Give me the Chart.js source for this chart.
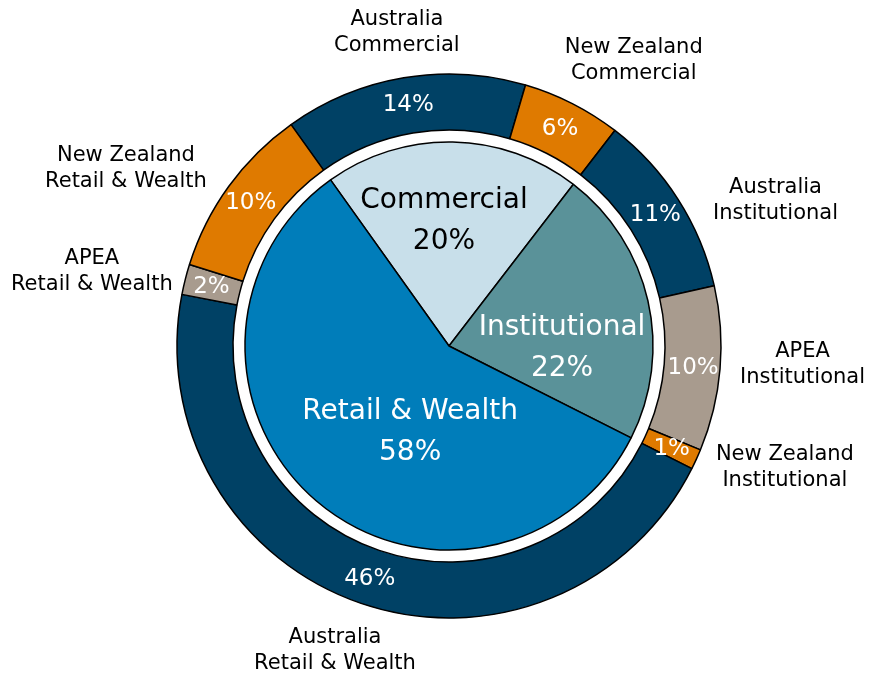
<!DOCTYPE html>
<html>
<head>
<meta charset="utf-8">
<title>Segment split</title>
<script src="https://cdn.jsdelivr.net/npm/chart.js@4.4.1/dist/chart.umd.min.js"></script>
<style>
    html, body { margin: 0; padding: 0; background: #ffffff; }
    #wrap { width: 869px; height: 674px; position: relative; }
</style>
</head>
<body>
<div id="wrap"><canvas id="segments"></canvas></div>
<script>
// outer ring: region split of each division
var regionLabels = [
    ["Australia", "Commercial"],
    ["New Zealand", "Commercial"],
    ["Australia", "Institutional"],
    ["APEA", "Institutional"],
    ["New Zealand", "Institutional"],
    ["Australia", "Retail & Wealth"],
    ["APEA", "Retail & Wealth"],
    ["New Zealand", "Retail & Wealth"],
];
var regionValues = [14.4, 5.9, 11.0, 9.8, 1.2, 45.6, 1.8, 10.3];

// inner pie: divisions
var divisionLabels = ["Commercial", "Institutional", "Retail & Wealth"];
var divisionValues = [20.3, 22.0, 57.7];

var regionColors = ["#004165", "#df7a00", "#004165", "#a89b8e", "#df7a00", "#004165", "#a89b8e", "#df7a00"];
var divisionColors = ["#c8dfea", "#5a9299", "#007dba"];
var divisionTextColors = ["#000000", "#ffffff", "#ffffff"];

// where the text sits: [degrees clockwise from top, distance from centre]
var regionLabelAt = [[-9.4, 319], [32.8, 341], [65.8, 358], [92.9, 354], [109.8, 357], [200.6, 324], [281.9, 365], [298.9, 369]];
var divisionLabelAt = [[-2.3, 126], [90.5, 113], [204.4, 94]];

var FONT = '"DejaVu Sans", Verdana, sans-serif';

function polar(x, y, deg, r) {
    var a = (deg - 90) * Math.PI / 180;
    return { x: x + r * Math.cos(a), y: y + r * Math.sin(a) };
}

function drawLines(ctx, lines, x, y, lineHeight) {
    var top = y - (lines.length - 1) * lineHeight / 2;
    for (var i = 0; i < lines.length; i++) {
        ctx.fillText(lines[i], x, top + i * lineHeight);
    }
}

var labelPlugin = {
    id: "segmentLabels",
    afterDatasetsDraw: function (chart) {
        var ctx = chart.ctx;
        ctx.save();
        ctx.textAlign = "center";
        ctx.textBaseline = "middle";

        // percentages inside the ring + names outside
        var ring = chart.getDatasetMeta(0);
        ring.data.forEach(function (arc, i) {
            var p = arc.getProps(["x", "y", "startAngle", "endAngle", "innerRadius", "outerRadius"], true);
            var mid = (p.startAngle + p.endAngle) / 2;
            var r = (p.innerRadius + p.outerRadius) / 2 + 1;
            ctx.fillStyle = "#ffffff";
            ctx.font = "23px " + FONT;
            ctx.fillText(Math.round(regionValues[i]) + "%", p.x + r * Math.cos(mid), p.y + r * Math.sin(mid) + 1);

            var at = polar(p.x, p.y, regionLabelAt[i][0], regionLabelAt[i][1]);
            ctx.fillStyle = "#000000";
            ctx.font = "21px " + FONT;
            drawLines(ctx, regionLabels[i], at.x, at.y + 1, 26);
        });

        var pie = chart.getDatasetMeta(2);
        pie.data.forEach(function (arc, i) {
            var p = arc.getProps(["x", "y"], true);
            var at = polar(p.x, p.y, divisionLabelAt[i][0], divisionLabelAt[i][1]);
            ctx.fillStyle = divisionTextColors[i];
            ctx.font = "28px " + FONT;
            drawLines(ctx, [divisionLabels[i], Math.round(divisionValues[i]) + "%"], at.x, at.y + 1, 41);
        });
        ctx.restore();
    },
};

function drawSegments() {
    var ctx = document.getElementById("segments").getContext("2d");

    var chart = new Chart(ctx, {
        type: "doughnut",
        data: {
            labels: regionLabels.map(function (l) { return l.join(" "); }),
            datasets: [
                {
                    label: "Region",
                    data: regionValues,
                    backgroundColor: regionColors,
                    borderColor: "#000000",
                    borderWidth: 1.5,
                    weight: 56,
                },
                {
                    // white gap between ring and pie
                    label: "gap",
                    data: [1],
                    backgroundColor: "rgba(0,0,0,0)",
                    borderWidth: 0,
                    weight: 12,
                },
                {
                    label: "Division",
                    data: divisionValues,
                    backgroundColor: divisionColors,
                    borderColor: "#000000",
                    borderWidth: 1.5,
                    weight: 204,
                },
            ],
        },
        options: {
            responsive: true,
            maintainAspectRatio: false,
            animation: false,
            events: [],
            cutout: 0,
            radius: 272,
            rotation: -35.5,
            layout: { padding: { left: 150, right: 121, top: 74, bottom: 56 } },
            plugins: {
                legend: { display: false },
                tooltip: { enabled: false },
            },
        },
        plugins: [labelPlugin],
    });
}

drawSegments();
</script>
</body>
</html>
